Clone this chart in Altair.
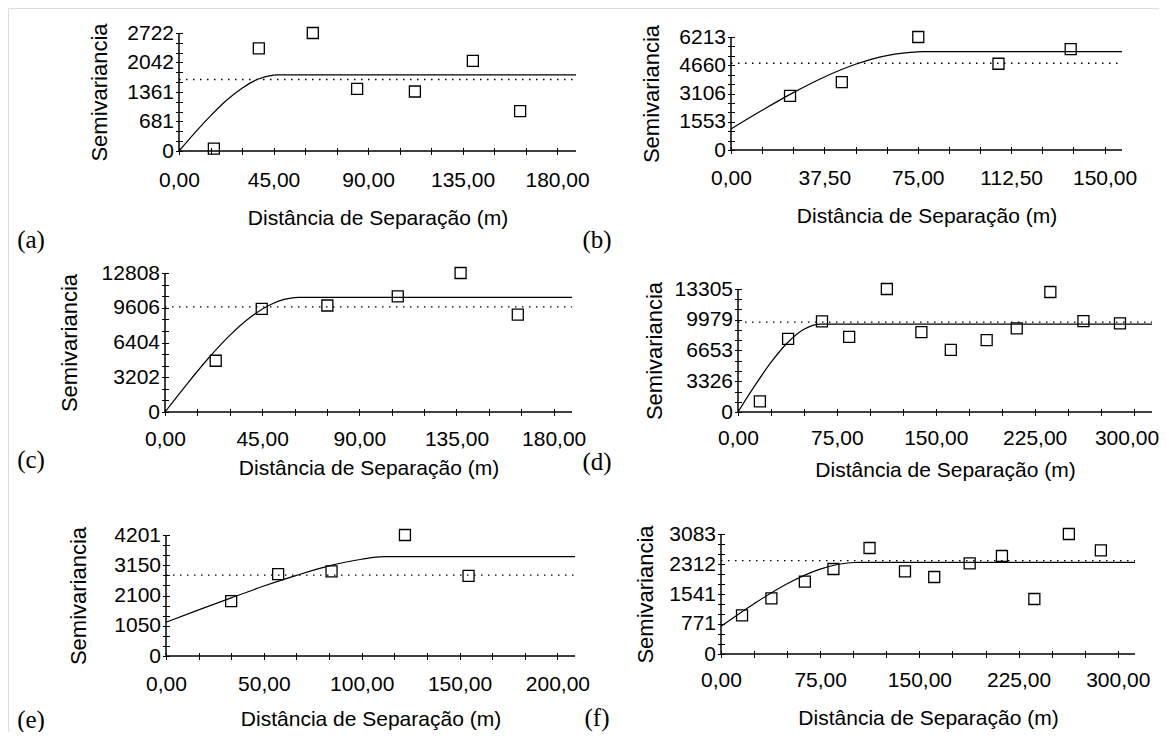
import json
import altair as alt
import pandas as pd

# ---------------- data ----------------
# (a)
A_px = [16.6, 38.0, 63.7, 84.8, 112.3, 139.9, 162.4]
A_py = [54, 2369, 2722, 1434, 1372, 2078, 920]
A_cx = [0, 7.5, 15, 22.5, 30, 37.5, 45, 47, 189]
A_cy = [0, 420, 810, 1165, 1450, 1655, 1750, 1756, 1756]
A_sill = 1649
A_xmax = 189
A_xticks = [0, 45, 90, 135, 180]
A_xlabels = ["0,00", "45,00", "90,00", "135,00", "180,00"]
A_yticks = [0, 681, 1361, 2042, 2722]
A_ylabels = ["0", "681", "1361", "2042", "2722"]

# (b)
B_px = [23.7, 44.5, 75.2, 107.4, 136.4]
B_py = [2978, 3731, 6213, 4742, 5551]
B_cx = [0, 12.5, 25, 37.5, 50, 62.5, 75, 77, 157]
B_cy = [1158, 2183, 3153, 4014, 4712, 5192, 5400, 5404, 5404]
B_sill = 4770
B_xmax = 157
B_xticks = [0, 37.5, 75, 112.5, 150]
B_xlabels = ["0,00", "37,50", "75,00", "112,50", "150,00"]
B_yticks = [0, 1553, 3106, 4660, 6213]
B_ylabels = ["0", "1553", "3106", "4660", "6213"]

# (c)
C_px = [23.5, 44.8, 75.2, 107.8, 136.9, 163.4]
C_py = [4722, 9506, 9814, 10648, 12808, 8981]
C_cx = [0, 10, 20, 30, 40, 50, 60, 62, 188.5]
C_cy = [0, 2532, 4930, 7063, 8797, 10000, 10539, 10555, 10555]
C_sill = 9691
C_xmax = 188.5
C_xticks = [0, 45, 90, 135, 180]
C_xlabels = ["0,00", "45,00", "90,00", "135,00", "180,00"]
C_yticks = [0, 3202, 6404, 9606, 12808]
C_ylabels = ["0", "3202", "6404", "9606", "12808"]

# (d)
D_px = [16.6, 38.0, 63.7, 84.3, 112.9, 139.1, 161.4, 188.6, 211.4, 236.9, 262.0, 289.7]
D_py = [1157, 7918, 9798, 8135, 13305, 8641, 6725, 7773, 9039, 12980, 9834, 9581]
D_cx = [0, 12.5, 25, 37.5, 50, 62.9, 314]
D_cy = [0, 2793, 5363, 7487, 8943, 9509, 9509]
D_sill = 9726
D_xmax = 314
D_xticks = [0, 75, 150, 225, 300]
D_xlabels = ["0,00", "75,00", "150,00", "225,00", "300,00"]
D_yticks = [0, 3326, 6653, 9979, 13305]
D_ylabels = ["0", "3326", "6653", "9979", "13305"]

# (e)
E_px = [33.3, 57.3, 84.6, 122.1, 154.6]
E_py = [1903, 2843, 2936, 4201, 2785]
E_cx = [0, 16.67, 33.33, 50, 66.67, 83.33, 100, 111.5, 209]
E_cy = [1172, 1600, 2020, 2430, 2800, 3130, 3360, 3447, 3447]
E_sill = 2808
E_xmax = 209
E_xticks = [0, 50, 100, 150, 200]
E_xlabels = ["0,00", "50,00", "100,00", "150,00", "200,00"]
E_yticks = [0, 1050, 2100, 3150, 4201]
E_ylabels = ["0", "1050", "2100", "3150", "4201"]

# (f)
F_px = [15.9, 38.1, 63.4, 85.0, 112.3, 139.1, 161.2, 188.0, 212.4, 236.9, 263.0, 287.2]
F_py = [993, 1430, 1858, 2184, 2723, 2124, 1978, 2329, 2518, 1413, 3083, 2663]
F_cx = [0, 25, 50, 75, 100, 104, 313]
F_cy = [711, 1292, 1805, 2181, 2351, 2355, 2355]
F_sill = 2398
F_xmax = 313
F_xticks = [0, 75, 150, 225, 300]
F_xlabels = ["0,00", "75,00", "150,00", "225,00", "300,00"]
F_yticks = [0, 771, 1541, 2312, 3083]
F_ylabels = ["0", "771", "1541", "2312", "3083"]

PANEL_NAMES = ["(a)", "(b)", "(c)", "(d)", "(e)", "(f)"]

# ---------------- layout (page pixels) ----------------
W, H, M = 1151, 724, 8
LAYOUT = {
    "(a)": dict(x0=179, x1=576, y0=151, y1=33, lx=31, ly=240, lp=15, tp=17, ytp=15, edge=0),
    "(b)": dict(x0=731, x1=1122, y0=150, y1=37, lx=597, ly=240, lp=14, tp=17, ytp=15, edge=0),
    "(c)": dict(x0=165, x1=572, y0=412, y1=273, lx=31, ly=460, lp=13, tp=8, ytp=20, edge=0),
    "(d)": dict(x0=738, x1=1152, y0=412, y1=289, lx=597, ly=462, lp=12, tp=11, ytp=8, edge=-7),
    "(e)": dict(x0=166, x1=575, y0=656, y1=535, lx=31, ly=720, lp=14, tp=14, ytp=23, edge=0),
    "(f)": dict(x0=721, x1=1135, y0=654, y1=534, lx=597, ly=718, lp=12, tp=17, ytp=11, edge=0),
}
FONT = "Liberation Sans"
FS = 21
TK = 7


def with_minor(vals, n=3):
    out = []
    for a, b in zip(vals[:-1], vals[1:]):
        for k in range(n):
            out.append(float(a + (b - a) * k / n))
    out.append(float(vals[-1]))
    return out


def label_expr(vals, labels):
    v = json.dumps([float(x) for x in vals])
    lab = json.dumps(labels)
    return f"indexof({v}, datum.value) >= 0 ? {lab}[indexof({v}, datum.value)] : ''"


SETS = [
    (A_px, A_py, A_cx, A_cy, A_sill, A_xmax, A_xticks, A_xlabels, A_yticks, A_ylabels),
    (B_px, B_py, B_cx, B_cy, B_sill, B_xmax, B_xticks, B_xlabels, B_yticks, B_ylabels),
    (C_px, C_py, C_cx, C_cy, C_sill, C_xmax, C_xticks, C_xlabels, C_yticks, C_ylabels),
    (D_px, D_py, D_cx, D_cy, D_sill, D_xmax, D_xticks, D_xlabels, D_yticks, D_ylabels),
    (E_px, E_py, E_cx, E_cy, E_sill, E_xmax, E_xticks, E_xlabels, E_yticks, E_ylabels),
    (F_px, F_py, F_cx, F_cy, F_sill, F_xmax, F_xticks, F_xlabels, F_yticks, F_ylabels),
]


def make_panel(name, px, py, cx, cy, sill, xmax, xt, xl, yt, yl):
    L = LAYOUT[name]
    ymax = yt[-1]
    step = (xt[1] - xt[0]) / 3
    xvals = with_minor(xt) + [float(xt[-1]) + step * k for k in (1, 2)]
    xvals = [v for v in xvals if v <= xmax + 1e-9]
    yvals = with_minor(yt)
    extra = {}
    if L["edge"]:
        extra["labelOffset"] = {"condition": {"test": f"datum.value === {float(xt[-1])}", "value": L["edge"]}, "value": 0}
    xaxis = alt.Axis(
        orient="bottom", offset=(L["y0"] - M) - TK / 2 - H, values=xvals,
        labelExpr=label_expr(xt, xl), title="Distância de Separação (m)",
        domain=False, grid=False, tickSize=TK, tickColor="black", tickWidth=1,
        labelFont=FONT, labelFontSize=FS, labelColor="black", labelPadding=L["lp"],
        labelFlush=False, labelOverlap=False, labelBound=False,
        titleFont=FONT, titleFontSize=FS, titleFontWeight="normal", titleColor="black",
        titlePadding=L["tp"], **extra,
    )
    yaxis = alt.Axis(
        orient="left", offset=-((L["x0"] - M) + TK / 2), values=yvals,
        labelExpr=label_expr(yt, yl), title="Semivariancia",
        domain=False, grid=False, tickSize=TK, tickColor="black", tickWidth=1,
        labelFont=FONT, labelFontSize=FS, labelColor="black", labelPadding=2,
        labelFlush=False, labelOverlap=False, labelBound=False,
        titleFont=FONT, titleFontSize=FS + 1, titleFontWeight="normal", titleColor="black",
        titlePadding=L["ytp"],
    )
    X = alt.X("x:Q", scale=alt.Scale(domain=[0, xmax], range=[L["x0"] - M, L["x1"] - M], zero=False, nice=False), axis=xaxis)
    Y = alt.Y("y:Q", scale=alt.Scale(domain=[0, ymax], range=[L["y0"] - M, L["y1"] - M], zero=False, nice=False), axis=yaxis)

    pts = alt.Chart(pd.DataFrame({"x": px, "y": py})).mark_point(
        shape="square", filled=False, size=121, stroke="black", strokeWidth=1.3, opacity=1
    ).encode(x=X, y=Y)
    curve = alt.Chart(pd.DataFrame({"x": cx, "y": cy})).mark_line(
        color="black", strokeWidth=1.2, interpolate="monotone"
    ).encode(x=X, y=Y)
    sill_df = pd.DataFrame({"x": [0.0], "x2": [float(xmax)], "y": [float(sill)]})
    sill_l = alt.Chart(sill_df).mark_rule(color="black", strokeWidth=1.3, strokeDash=[1.5, 5.5]).encode(
        x=X, x2="x2:Q", y=Y)
    ax_df = pd.DataFrame({"x": [0.0, 0.0], "x2": [float(xmax), 0.0], "y": [0.0, 0.0], "y2": [0.0, float(ymax)]})
    ax_l = alt.Chart(ax_df).mark_rule(color="black", strokeWidth=1.5).encode(
        x=X, x2="x2:Q", y=Y, y2="y2:Q")
    return alt.layer(ax_l, sill_l, curve, pts)


layers = []
for name, s in zip(PANEL_NAMES, SETS):
    layers.append(make_panel(name, *s))

for name in PANEL_NAMES:
    L = LAYOUT[name]
    layers.append(
        alt.Chart(pd.DataFrame({"t": [name]})).mark_text(
            font="Liberation Serif", fontSize=25, align="center", baseline="middle", color="black"
        ).encode(x=alt.value(L["lx"] - M), y=alt.value(L["ly"] - M), text="t:N")
    )

chart = alt.layer(*layers).resolve_scale(x="independent", y="independent").properties(
    width=W, height=H, autosize=alt.AutoSizeParams(type="none"), padding=0
).configure_view(stroke=None).configure(background="white")

chart.save("out.html", embed_options={"renderer": "svg", "actions": False})
